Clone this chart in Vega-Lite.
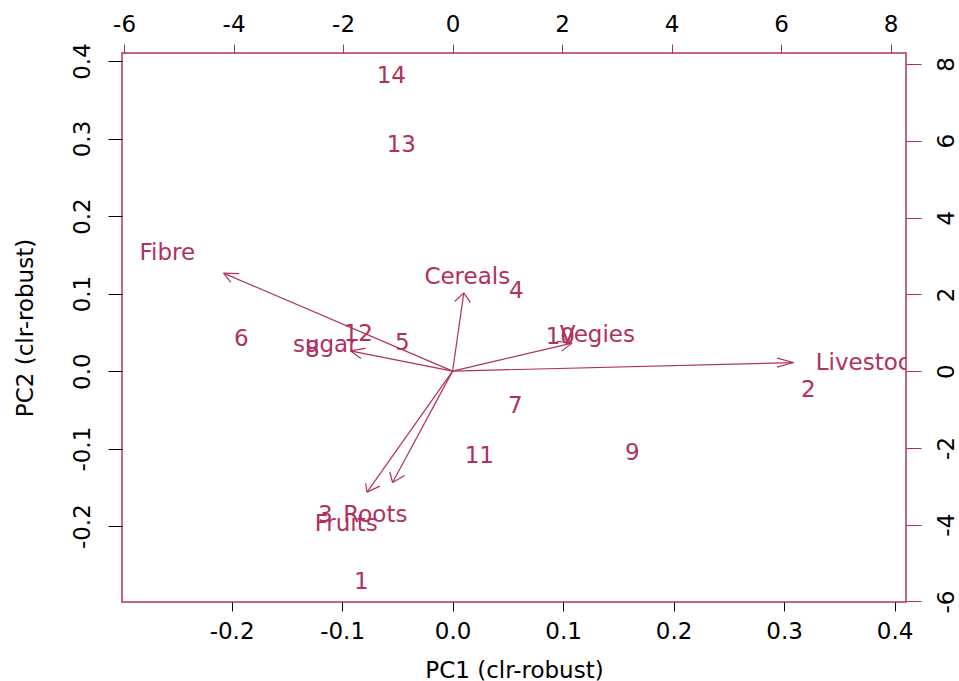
{
  "$schema": "https://vega.github.io/schema/vega-lite/v6.json",
  "width": 784,
  "height": 549,
  "autosize": {"type": "none"},
  "padding": {"left": 122, "top": 53, "right": 53, "bottom": 79},
  "background": "white",
  "config": {
    "font": "DejaVu Sans",
    "view": {"stroke": "#b03060", "strokeWidth": 1.5},
    "axis": {
      "grid": false,
      "domain": false,
      "labelFontSize": 23,
      "titleFontSize": 23,
      "labelColor": "black",
      "titleColor": "black",
      "titleFontWeight": "normal",
      "labelFlush": false,
      "labelOverlap": false
    }
  },
  "datasets": {
    "scores": [
      {"id": "14", "pc1": -0.0555, "pc2": 0.381},
      {"id": "13", "pc1": -0.0464, "pc2": 0.292},
      {"id": "4", "pc1": 0.0576, "pc2": 0.1038},
      {"id": "12", "pc1": -0.0853, "pc2": 0.0484},
      {"id": "6", "pc1": -0.1912, "pc2": 0.0419},
      {"id": "8", "pc1": -0.127, "pc2": 0.0277},
      {"id": "5", "pc1": -0.0455, "pc2": 0.0368},
      {"id": "10", "pc1": 0.0975, "pc2": 0.0445},
      {"id": "2", "pc1": 0.3219, "pc2": -0.0238},
      {"id": "7", "pc1": 0.0567, "pc2": -0.0444},
      {"id": "9", "pc1": 0.1626, "pc2": -0.105},
      {"id": "11", "pc1": 0.0242, "pc2": -0.1089},
      {"id": "3", "pc1": -0.1152, "pc2": -0.185},
      {"id": "1", "pc1": -0.0826, "pc2": -0.2726}
    ],
    "segments": [
      {"var": "Fibre", "part": "shaft", "x": 0, "y": 0, "xe": -4.183, "ye": 2.552},
      {"var": "Fibre", "part": "arm1", "x": -4.183, "y": 2.552, "xe": -4.051, "ye": 2.31},
      {"var": "Fibre", "part": "arm2", "x": -4.183, "y": 2.552, "xe": -3.896, "ye": 2.539},
      {"var": "Cereals", "part": "shaft", "x": 0, "y": 0, "xe": 0.2046, "ye": 2.039},
      {"var": "Cereals", "part": "arm1", "x": 0.2046, "y": 2.039, "xe": 0.0384, "ye": 1.815},
      {"var": "Cereals", "part": "arm2", "x": 0.2046, "y": 2.039, "xe": 0.3233, "ye": 1.789},
      {"var": "Vegies", "part": "shaft", "x": 0, "y": 0, "xe": 2.181, "ye": 0.729},
      {"var": "Vegies", "part": "arm1", "x": 2.181, "y": 0.729, "xe": 1.898, "ye": 0.779},
      {"var": "Vegies", "part": "arm2", "x": 2.181, "y": 0.729, "xe": 1.992, "ye": 0.521},
      {"var": "Livestock", "part": "shaft", "x": 0, "y": 0, "xe": 6.228, "ye": 0.224},
      {"var": "Livestock", "part": "arm1", "x": 6.228, "y": 0.224, "xe": 5.925, "ye": 0.339},
      {"var": "Livestock", "part": "arm2", "x": 6.228, "y": 0.224, "xe": 5.925, "ye": 0.104},
      {"var": "sugar", "part": "shaft", "x": 0, "y": 0, "xe": -1.868, "ye": 0.529},
      {"var": "sugar", "part": "arm1", "x": -1.868, "y": 0.529, "xe": -1.673, "ye": 0.331},
      {"var": "sugar", "part": "arm2", "x": -1.868, "y": 0.529, "xe": -1.59, "ye": 0.591},
      {"var": "Roots", "part": "shaft", "x": 0, "y": 0, "xe": -1.096, "ye": -2.901},
      {"var": "Roots", "part": "arm1", "x": -1.096, "y": -2.901, "xe": -0.877, "ye": -2.719},
      {"var": "Roots", "part": "arm2", "x": -1.096, "y": -2.901, "xe": -1.147, "ye": -2.628},
      {"var": "Fruits", "part": "shaft", "x": 0, "y": 0, "xe": -1.563, "ye": -3.151},
      {"var": "Fruits", "part": "arm1", "x": -1.563, "y": -3.151, "xe": -1.328, "ye": -2.995},
      {"var": "Fruits", "part": "arm2", "x": -1.563, "y": -3.151, "xe": -1.589, "ye": -2.922}
    ],
    "varlabels": [
      {"var": "Fibre", "l1": -5.211, "l2": 3.086},
      {"var": "Cereals", "l1": 0.268, "l2": 2.461},
      {"var": "Vegies", "l1": 2.643, "l2": 0.951},
      {"var": "Livestock", "l1": 7.62, "l2": 0.222},
      {"var": "sugar", "l1": -2.325, "l2": 0.69},
      {"var": "Roots", "l1": -1.41, "l2": -3.735},
      {"var": "Fruits", "l1": -1.942, "l2": -3.97}
    ]
  },
  "layer": [
    {
      "data": {"name": "scores"},
      "mark": {"type": "text", "fontSize": 23, "color": "#b03060", "baseline": "middle", "align": "center", "clip": true},
      "encoding": {
        "x": {
          "field": "pc1", "type": "quantitative",
          "scale": {"domain": [-0.2992, 0.4103], "nice": false, "zero": false},
          "axis": {"orient": "bottom", "values": [-0.2, -0.1, 0, 0.1, 0.2, 0.3, 0.4], "format": ".1f",
                   "labelExpr": "replace(datum.label, '−', '-')",
                   "tickColor": "black", "tickSize": 9, "labelPadding": 9, "labelAngle": 0,
                   "title": "PC1 (clr-robust)", "titlePadding": 16}
        },
        "y": {
          "field": "pc2", "type": "quantitative",
          "scale": {"domain": [-0.2978, 0.4103], "nice": false, "zero": false},
          "axis": {"orient": "left", "values": [-0.2, -0.1, 0, 0.1, 0.2, 0.3, 0.4], "format": ".1f",
                   "labelExpr": "replace(datum.label, '−', '-')",
                   "tickColor": "black", "tickSize": 14, "labelPadding": 14, "labelAngle": 270,
                   "labelAlign": "center", "labelBaseline": "bottom",
                   "title": "PC2 (clr-robust)", "titlePadding": 34}
        },
        "text": {"field": "id", "type": "nominal"}
      }
    },
    {
      "layer": [
        {
          "data": {"name": "segments"},
          "mark": {"type": "rule", "color": "#b03060", "strokeWidth": 1.2},
          "encoding": {
            "x": {
              "field": "x", "type": "quantitative",
              "scale": {"domain": [-6.038, 8.281], "nice": false, "zero": false},
              "axis": {"orient": "top", "values": [-6, -4, -2, 0, 2, 4, 6, 8], "format": "d",
                       "labelExpr": "replace(datum.label, '−', '-')",
                       "tickColor": "#b03060", "tickSize": 9, "labelPadding": 8, "labelAngle": 0, "title": null}
            },
            "y": {
              "field": "y", "type": "quantitative",
              "scale": {"domain": [-6.014, 8.287], "nice": false, "zero": false},
              "axis": {"orient": "right", "values": [-6, -4, -2, 0, 2, 4, 6, 8], "format": "d",
                       "labelExpr": "replace(datum.label, '−', '-')",
                       "tickColor": "#b03060", "tickSize": 15, "labelPadding": 14, "labelAngle": 270,
                       "labelAlign": "center", "labelBaseline": "top", "title": null}
            },
            "x2": {"field": "xe"},
            "y2": {"field": "ye"}
          }
        },
        {
          "data": {"name": "varlabels"},
          "mark": {"type": "text", "fontSize": 23, "color": "#b03060", "baseline": "middle", "align": "center", "clip": true},
          "encoding": {
            "x": {
              "field": "l1", "type": "quantitative",
              "scale": {"domain": [-6.038, 8.281], "nice": false, "zero": false},
              "axis": {"orient": "top", "values": [-6, -4, -2, 0, 2, 4, 6, 8], "format": "d",
                       "labelExpr": "replace(datum.label, '−', '-')",
                       "tickColor": "#b03060", "tickSize": 9, "labelPadding": 8, "labelAngle": 0, "title": null}
            },
            "y": {
              "field": "l2", "type": "quantitative",
              "scale": {"domain": [-6.014, 8.287], "nice": false, "zero": false},
              "axis": {"orient": "right", "values": [-6, -4, -2, 0, 2, 4, 6, 8], "format": "d",
                       "labelExpr": "replace(datum.label, '−', '-')",
                       "tickColor": "#b03060", "tickSize": 15, "labelPadding": 14, "labelAngle": 270,
                       "labelAlign": "center", "labelBaseline": "top", "title": null}
            },
            "text": {"field": "var", "type": "nominal"}
          }
        }
      ]
    }
  ],
  "resolve": {"scale": {"x": "independent", "y": "independent"}, "axis": {"x": "independent", "y": "independent"}}
}
